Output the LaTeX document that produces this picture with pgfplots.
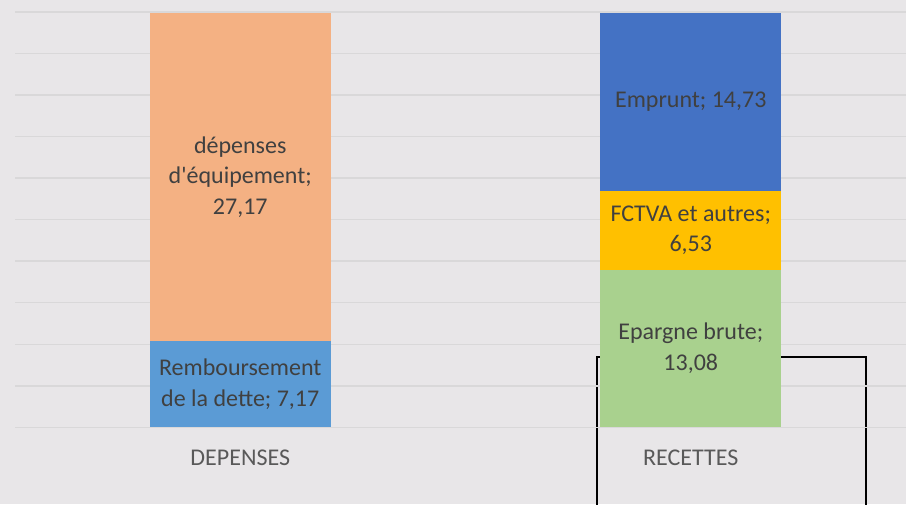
\documentclass[border=0pt]{standalone}
\usepackage{pgfplots}
\pgfplotsset{compat=1.18}
\usepackage{fontspec}
\setmainfont{Carlito}[Ligatures=TeXOff]
\definecolor{bgc}{HTML}{E8E6E8}
\definecolor{gridc}{HTML}{D9D8D9}
\definecolor{cequip}{HTML}{F4B183}
\definecolor{crembo}{HTML}{5B9BD5}
\definecolor{cepar}{HTML}{A9D18E}
\definecolor{cfctva}{HTML}{FFC000}
\definecolor{cempr}{HTML}{4472C4}
\definecolor{labc}{HTML}{404040}
\definecolor{tickc}{HTML}{595959}
\tikzset{blab/.style={align=center, text=labc, font=\fontsize{18}{23}\selectfont}}
\begin{document}
\begin{tikzpicture}
\useasboundingbox (0,0) rectangle (679.5pt,378pt);
\clip (0,0) rectangle (679.5pt,378pt);
\fill[bgc] (0,0) rectangle (679.5pt,378pt);
\draw[black, line width=1.1pt] (447.75pt,-5pt) -- (447.75pt,110.25pt) -- (649.5pt,110.25pt) -- (649.5pt,-5pt);
\begin{axis}[
  at={(11.25pt,57.5pt)}, anchor=south west,
  scale only axis, width=675.75pt, height=311.5pt,
  xmin=-0.5, xmax=1.5, ymin=0, ymax=34.45,
  ybar stacked, bar width=0.402,
  axis line style={draw=none},
  ytick={0,3.445,6.89,10.335,13.78,17.225,20.67,24.115,27.56,31.005,34.45},
  yticklabels={},
  ymajorgrids, grid style={color=gridc, line width=1.1pt},
  xtick={0,1}, xticklabels={DEPENSES,RECETTES},
  major tick length=0pt,
  xticklabel style={anchor=base, yshift=-28.5pt, inner sep=0pt, font=\fontsize{18}{22}\selectfont, text=tickc},
  clip=false,
]
\addplot[fill=crembo, draw=none] coordinates {(0,7.17) (1,0)};
\addplot[fill=cequip, draw=none] coordinates {(0,27.17) (1,0)};
\addplot[fill=cepar, draw=none] coordinates {(0,0) (1,13.08)};
\addplot[fill=cfctva, draw=none] coordinates {(0,0) (1,6.53)};
\addplot[fill=cempr, draw=none] coordinates {(0,0) (1,14.73)};
\coordinate (L1) at (axis cs:0,3.585);
\coordinate (L2) at (axis cs:0,20.755);
\coordinate (L3) at (axis cs:1,6.54);
\coordinate (L4) at (axis cs:1,16.345);
\coordinate (L5) at (axis cs:1,26.975);
\end{axis}
\node[blab] at (L1) {Remboursement\\de la dette; 7,17};
\node[blab] at (L2) {dépenses\\d'équipement;\\27,17};
\node[blab] at (L3) {Epargne brute;\\13,08};
\node[blab] at (L4) {FCTVA et autres;\\6,53};
\node[blab] at (L5) {Emprunt; 14,73};
\end{tikzpicture}
\end{document}
